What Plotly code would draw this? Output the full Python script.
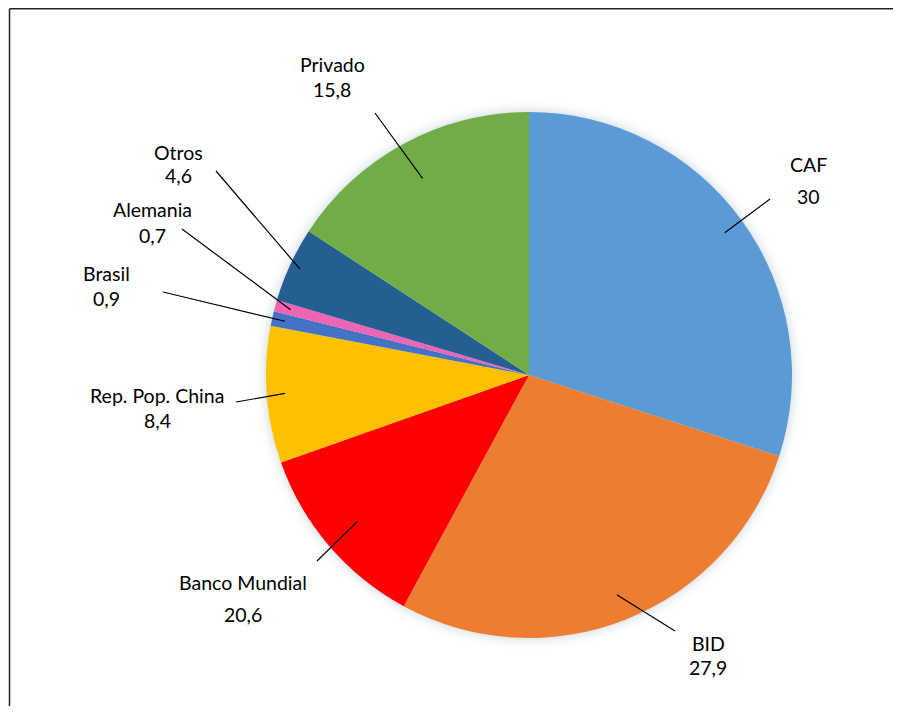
import math
import plotly.graph_objects as go

# ---- data ----
labels = ["CAF", "BID", "Banco Mundial", "Rep. Pop. China", "Brasil", "Alemania", "Otros", "Privado"]
values = [30.0, 27.9, 11.7, 8.4, 0.9, 0.7, 4.6, 15.8]
value_texts = ["30", "27,9", "20,6", "8,4", "0,9", "0,7", "4,6", "15,8"]
colors = ["#5B9BD5", "#ED7D31", "#FF0000", "#FFC000", "#4472C4", "#F064B4", "#255E91", "#70AD47"]

# ---- layout / style (window pixels, 901x714 window; page body has 8px margin) ----
OFF = 8
W, H = 901 - 2 * OFF, 714 - 2 * OFF
CX, CY, R = 529, 375, 263
# name label centre, value label centre, outer end of leader line, inner radius fraction
label_layout = {
    "CAF":             ((808, 164), (808, 196), (770, 199), 0.92),
    "BID":             ((708, 643), (708, 667), (675, 631), 0.90),
    "Banco Mundial":   ((243, 582), (243, 614), (317, 561), 0.86),
    "Rep. Pop. China": ((157, 395), (157, 420), (236, 402), 0.93),
    "Brasil":          ((106, 273), (106, 298), (163, 292), 0.95),
    "Alemania":        ((152, 209), (152, 235), (182, 229), 0.94),
    "Otros":           ((178, 152), (178, 176), (216, 171), 0.96),
    "Privado":         ((332, 64),  (332, 89),  (375, 113), 0.85),
}
FONT = dict(family="Lato, Open Sans, sans-serif", size=19.5, color="#000000")


def px(x):
    return (x - OFF) / W


def py(y):
    return 1 - (y - OFF) / H


fig = go.Figure(go.Pie(
    labels=labels,
    values=values,
    sort=False,
    direction="clockwise",
    rotation=0,
    marker=dict(colors=colors, line=dict(width=0)),
    textinfo="none",
    hoverinfo="label+value",
    showlegend=False,
    domain=dict(x=[px(CX - R), px(CX + R)], y=[py(CY + R), py(CY - R)]),
))

shapes = []
# soft halo around the pie
for i, op in enumerate([0.07, 0.05, 0.035, 0.02]):
    rr = R + 2 + i * 3
    shapes.append(dict(type="circle", xref="paper", yref="paper", layer="below",
                       x0=px(CX - rr), x1=px(CX + rr), y0=py(CY + rr), y1=py(CY - rr),
                       fillcolor="rgba(120,140,160,%s)" % op, line=dict(width=0)))

# frame (top and left edges visible)
FX, FY = 9.5, 8.8
shapes.append(dict(type="line", xref="paper", yref="paper",
                   x0=px(FX), x1=1.0, y0=py(FY), y1=py(FY),
                   line=dict(color="#222222", width=1.5)))
shapes.append(dict(type="line", xref="paper", yref="paper",
                   x0=px(FX), x1=px(FX), y0=py(FY), y1=0,
                   line=dict(color="#222222", width=1.5)))

annotations = []
total = sum(values)
cum = 0.0
for lab, val, vt in zip(labels, values, value_texts):
    mid = (cum + val / 2) / total * 2 * math.pi
    cum += val
    (nx, ny), (vx, vy), (ox, oy), frac = label_layout[lab]
    ix = CX + frac * R * math.sin(mid)
    iy = CY - frac * R * math.cos(mid)
    shapes.append(dict(type="line", xref="paper", yref="paper",
                       x0=px(ix), y0=py(iy), x1=px(ox), y1=py(oy),
                       line=dict(color="black", width=1.2)))
    annotations.append(dict(x=px(nx), y=py(ny), xref="paper", yref="paper", text=lab,
                            showarrow=False, font=FONT, xanchor="center", yanchor="middle"))
    annotations.append(dict(x=px(vx), y=py(vy), xref="paper", yref="paper", text=vt,
                            showarrow=False, font=FONT, xanchor="center", yanchor="middle"))

fig.update_layout(
    width=W, height=H,
    margin=dict(l=0, r=0, t=0, b=0),
    paper_bgcolor="white",
    plot_bgcolor="white",
    shapes=shapes,
    annotations=annotations,
)

fig.write_html("out.html")
